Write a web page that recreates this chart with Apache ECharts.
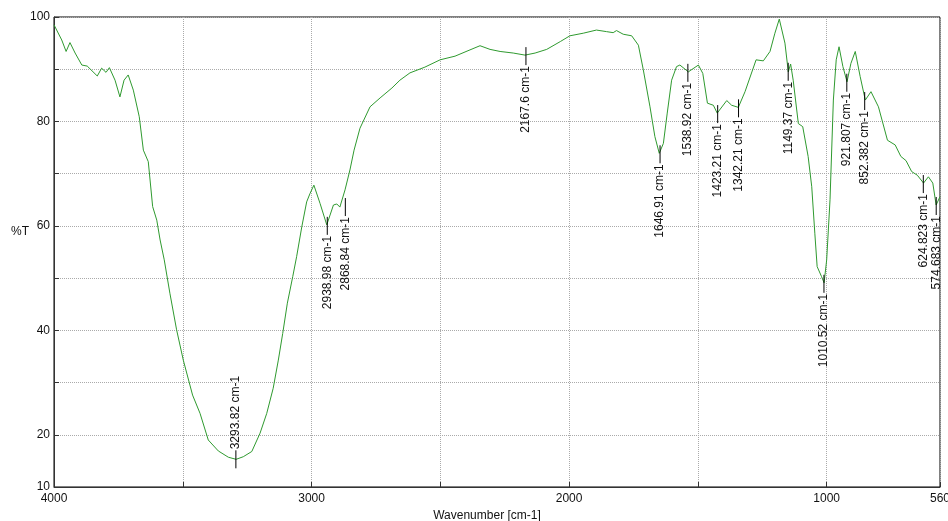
<!DOCTYPE html>
<html>
<head>
<meta charset="utf-8">
<script src="https://cdn.jsdelivr.net/npm/echarts@6/dist/echarts.min.js"></script>
<style>
  html, body { margin: 0; padding: 0; background: #fff; }
  #chart { width: 948px; height: 521px; }
</style>
</head>
<body>
<div id="chart"></div>
<script>
// spectrum (wavenumber cm-1 / %T)
var wavenumbers = [4000, 3970, 3953, 3938, 3918, 3892, 3871, 3832, 3815, 3798, 3785, 3763, 3744, 3728, 3712, 3692,
  3669, 3653, 3634, 3617, 3601, 3588, 3572, 3550, 3524, 3498, 3462, 3433, 3401, 3362, 3323, 3293, 3265, 3232, 3200,
  3174, 3149, 3129, 3112, 3094, 3073, 3058, 3038, 3019, 3006, 2991, 2967, 2941, 2915, 2902, 2890, 2870, 2851, 2835,
  2812, 2773, 2734, 2688, 2657, 2618, 2560, 2501, 2443, 2385, 2346, 2307, 2268, 2217, 2171, 2132, 2087, 2034, 1997,
  1945, 1894, 1855, 1829, 1816, 1790, 1757, 1731, 1712, 1686, 1667, 1650, 1634, 1619, 1602, 1583, 1570, 1537, 1498,
  1481, 1463, 1440, 1425, 1388, 1369, 1343, 1317, 1274, 1246, 1220, 1201, 1184, 1162, 1149, 1140, 1130, 1110, 1093,
  1072, 1058, 1046, 1037, 1020, 1010, 1000, 987, 974, 963, 952, 937, 921, 906, 889, 870, 850, 828, 799, 764, 734,
  712, 692, 670, 648, 624, 605, 588, 575, 560];
var transmittance = [98.5, 95.6, 93.4, 95.1, 93.1, 90.8, 90.6, 88.7, 90.2, 89.4, 90.3, 87.9, 84.7, 87.9, 88.9, 86.0,
  80.9, 74.5, 72.3, 63.7, 61.1, 57.3, 53.5, 47.1, 40.1, 34.3, 27.6, 24.1, 19.0, 16.9, 15.7, 15.3, 15.8, 16.8, 20.3,
  24.1, 28.9, 34.3, 39.4, 45.2, 50.3, 54.1, 59.8, 64.6, 66.2, 67.8, 64.3, 60.2, 64.0, 64.2, 63.6, 66.9, 70.7, 74.5,
  78.7, 82.8, 84.5, 86.4, 87.9, 89.3, 90.4, 91.8, 92.5, 93.7, 94.5, 93.8, 93.4, 93.1, 92.7, 93.1, 93.8, 95.3, 96.4,
  96.9, 97.5, 97.2, 97.0, 97.4, 96.7, 96.4, 94.6, 89.9, 82.8, 77.1, 73.9, 75.8, 81.6, 87.9, 90.5, 90.8, 89.5, 90.8,
  89.2, 83.5, 83.1, 81.6, 84.0, 83.1, 82.7, 85.7, 91.8, 91.6, 93.4, 96.9, 99.6, 95.0, 89.5, 91.0, 87.9, 79.6, 79.0,
  73.3, 67.5, 58.6, 52.2, 50.3, 49.1, 53.5, 65.0, 84.1, 91.8, 94.3, 90.5, 87.6, 91.1, 93.4, 88.6, 84.1, 85.7, 82.8,
  76.4, 75.5, 73.3, 72.5, 70.4, 69.7, 68.2, 69.4, 68.2, 64.0, 65.6];

// picked peaks
var peakWn = [3293.82, 2938.98, 2868.84, 2167.6, 1646.91, 1538.92, 1423.21, 1342.21, 1149.37, 1010.52, 921.807,
  852.382, 624.823, 574.683];
var peakT = [15.3, 60.2, 63.8, 92.7, 73.9, 89.5, 81.6, 82.7, 89.7, 49.1, 87.6, 84.1, 68.2, 64.0];
var peakLabels = ['3293.82 cm-1', '2938.98 cm-1', '2868.84 cm-1', '2167.6 cm-1', '1646.91 cm-1', '1538.92 cm-1',
  '1423.21 cm-1', '1342.21 cm-1', '1149.37 cm-1', '1010.52 cm-1', '921.807 cm-1', '852.382 cm-1',
  '624.823 cm-1', '574.683 cm-1'];
var peakAbove = [true, false, false, false, false, false, false, false, false, false, false, false, false, false];

var xLabelValues = [4000, 3000, 2000, 1000, 560];
var yLabelValues = [100, 80, 60, 40, 20, 10];

// x axis runs on negated wavenumber so it reads 4000 -> 560 left to right
var lineData = wavenumbers.map(function (w, i) { return [-w, transmittance[i]]; });
var peakData = peakWn.map(function (w, i) { return [-w, peakT[i]]; });

var font = 'Liberation Sans, Arial, sans-serif';

var chart = echarts.init(document.getElementById('chart'));
chart.setOption({
  animation: false,
  backgroundColor: '#fff',
  grid: {
    left: 54, right: 8, top: 17, bottom: 34,
    outerBoundsMode: 'none',
    containLabel: false,
    show: true, borderColor: '#000', borderWidth: 1
  },
  graphic: [
    {
      type: 'text',
      left: 11,
      top: 226,
      style: { text: '%T', fill: '#111', font: '12px ' + font }
    }
  ],
  xAxis: {
    type: 'value',
    min: -4000,
    max: -560,
    interval: 500,
    name: 'Wavenumber [cm-1]',
    nameLocation: 'middle',
    nameGap: 20,
    nameTextStyle: { color: '#111', fontFamily: font, fontSize: 12, padding: [0, 20, 0, 0] },
    axisLine: { show: true, lineStyle: { color: '#333', width: 1 } },
    axisTick: { show: true, inside: true, length: 5, lineStyle: { color: '#333' } },
    axisLabel: {
      color: '#111', fontFamily: font, fontSize: 12, margin: 6,
      showMinLabel: true, showMaxLabel: true,
      formatter: function (v) {
        return xLabelValues.indexOf(-v) >= 0 ? String(-v) : '';
      }
    },
    splitLine: { show: true, lineStyle: { color: '#aaa', type: 'dotted', width: 1 } }
  },
  yAxis: {
    type: 'value',
    min: 10,
    max: 100,
    interval: 10,
    axisLine: { show: true, lineStyle: { color: '#333', width: 1 } },
    axisTick: { show: true, inside: true, length: 5, lineStyle: { color: '#333' } },
    axisLabel: {
      color: '#111', fontFamily: font, fontSize: 12, margin: 4,
      formatter: function (v) {
        return yLabelValues.indexOf(v) >= 0 ? String(v) : '';
      }
    },
    splitLine: { show: true, lineStyle: { color: '#aaa', type: 'dotted', width: 1 } }
  },
  series: [
    {
      type: 'line',
      data: lineData,
      showSymbol: false,
      smooth: false,
      lineStyle: { color: '#2f9a2f', width: 1 },
      z: 3
    },
    {
      type: 'custom',
      data: peakData,
      z: 4,
      renderItem: function (params, api) {
        var i = params.dataIndex;
        var p = api.coord([api.value(0), api.value(1)]);
        var up = peakAbove[i];
        var y1 = up ? p[1] + 9 : p[1] - 8;
        var y2 = up ? p[1] - 9 : p[1] + 10;
        return {
          type: 'group',
          children: [
            {
              type: 'line',
              shape: { x1: p[0], y1: y1, x2: p[0], y2: y2 },
              style: { stroke: '#000', lineWidth: 1 }
            },
            {
              type: 'text',
              x: p[0],
              y: up ? p[1] - 10 : p[1] + 11,
              rotation: Math.PI / 2,
              style: {
                text: peakLabels[i],
                fill: '#111',
                font: '12px ' + font,
                align: up ? 'left' : 'right',
                verticalAlign: 'middle'
              }
            }
          ]
        };
      }
    }
  ]
});
</script>
</body>
</html>
